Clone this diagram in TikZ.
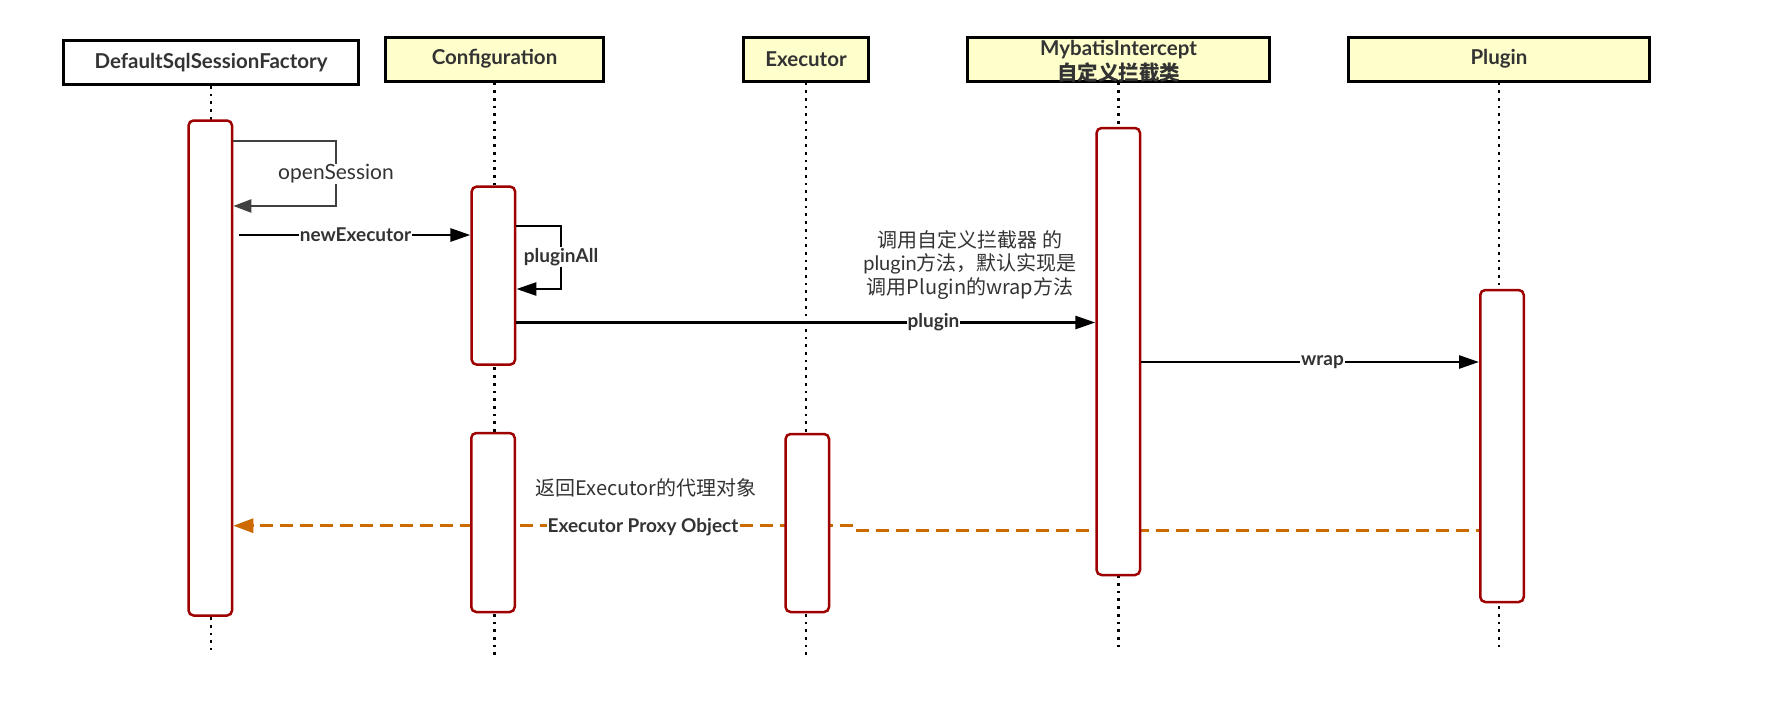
\documentclass[tikz,border=0pt]{standalone}
\usepackage{fontspec}
\setmainfont{Lato}
\newfontfamily\cjk{Noto Sans CJK SC}
\usetikzlibrary{arrows.meta}
\pgfdeclarelayer{bg}
\pgfsetlayers{bg,main}
\definecolor{hdrfill}{HTML}{FFFFCC}
\definecolor{actred}{HTML}{9E0000}
\definecolor{txt}{HTML}{333333}
\definecolor{retor}{HTML}{CC6A00}
\definecolor{selfg}{HTML}{404040}
\tikzset{
  hdr/.style={draw=black, line width=3pt, fill=hdrfill, inner sep=0pt, minimum height=44pt, text=txt, font=\fontsize{20.5}{26}\selectfont\bfseries},
  hdrtext/.style={inner sep=0pt, text=txt, font=\fontsize{20.5}{26}\selectfont\bfseries, align=center},
  act/.style={draw=actred, line width=2.5pt, fill=white, rounded corners=5pt, minimum width=43.5pt, inner sep=0pt},
  life/.style={line width=2.7pt, dash pattern=on 2.7pt off 5pt},
  msg/.style={line width=2.7pt, -{Triangle[length=20pt,width=13pt]}},
  lbl/.style={fill=white, inner sep=1pt, text=txt, font=\fontsize{19}{22}\selectfont\bfseries},
  plainlbl/.style={inner sep=0pt, text=txt, font=\fontsize{20}{23.5}\selectfont},
  retline/.style={draw=retor, line width=3pt, dash pattern=on 13pt off 7pt},
  ret/.style={retline, -{Triangle[length=20pt,width=14pt]}}
}
\begin{document}
\begin{tikzpicture}[x=1pt,y=-1pt]
\useasboundingbox (0,0) rectangle (1788,715);
% headers
\node[hdr, fill=white, minimum width=295pt] (dsf) at (211,62.5) {DefaultSqlSessionFactory};
\node[hdr, minimum width=218pt] (cfg) at (494.5,59) {Configuration};
\node[hdr, minimum width=125pt] (exe) at (806,59) {Executor};
\node[hdr, minimum width=302pt] (myb) at (1118.5,59) {};
\node[hdrtext] (mybT) at (1118.5,61) {MybatisIntercept\\[-1pt]\cjk{自定义拦截类}};
\node[hdr, minimum width=301pt] (plg) at (1499,59) {Plugin};
% activations
\node[act, minimum height=495pt] (dsfA) at (210.3,368) {};
\node[act, minimum height=178pt] (cfgA1) at (493.4,275.6) {};
\node[act, minimum height=179pt] (cfgA2) at (493,522.5) {};
\node[act, minimum height=178pt] (exeA) at (807.3,523) {};
\node[act, minimum height=447pt] (mybA) at (1118.3,351.5) {};
\node[act, minimum height=312pt] (plgA) at (1502,446) {};
% lifeline ends
\coordinate (dsfE) at (211,650);
\coordinate (cfgE) at (494.5,659);
\coordinate (exeE) at (806,659);
\coordinate (mybE) at (1118.5,647);
\coordinate (plgE) at (1499,647);
% return path points
\coordinate (rtA) at (856,530);
\coordinate (rtB) at (853,525.7);
\begin{pgfonlayer}{bg}
\fill[white] (0,0) rectangle (1788,715);
\draw[life] (dsf.south) -- (dsfE);
\draw[life] (cfg.south) -- (cfgE);
\draw[life] (exe.south) -- (exeE);
\draw[life] (myb.south) -- (mybE);
\draw[life] (plg.south) -- (plgE);
\draw[retline, dash phase=10pt] (plgA.west |- rtA) -- (rtA);
\draw[ret] (rtB) -- (dsfA.east |- rtB);
\end{pgfonlayer}
% openSession self call
\coordinate (osT) at (336,141);
\coordinate (osB) at (336,206);
\draw[line width=2.2pt, draw=selfg, -{Triangle[length=18pt,width=13pt]}] (dsfA.east |- osT) -- (osT) -- (osB) -- (dsfA.east |- osB);
\node[lbl, font=\fontsize{21}{24}\selectfont] (osL) at (336,174) {openSession};
% newExecutor
\coordinate (neS) at (239,235);
\draw[msg] (neS) -- (cfgA1.west |- neS);
\node[lbl] (neL) at (355.5,235) {newExecutor};
% pluginAll self call
\coordinate (paT) at (561,226);
\coordinate (paB) at (561,289);
\draw[msg] (cfgA1.east |- paT) -- (paT) -- (paB) -- (cfgA1.east |- paB);
\node[lbl] (paL) at (561,257) {pluginAll};
% plugin
\coordinate (plY) at (0,322.5);
\draw[msg] (cfgA1.east |- plY) -- (mybA.west |- plY);
\node[lbl] (plL) at (933.5,322.5) {plugin};
\node[plainlbl, align=center] (note) at (970,265) {\cjk{调用自定义拦截器 的}\\plugin\cjk{方法，默认实现是}\\\cjk{调用}Plugin\cjk{的}wrap\cjk{方法}};
% wrap
\coordinate (wrY) at (0,362);
\draw[msg] (mybA.east |- wrY) -- (plgA.west |- wrY);
\node[lbl] (wrL) at (1322.5,362) {wrap};
% return labels
\node[lbl] (rtL) at (643,527.5) {Executor Proxy Object};
\node[plainlbl] (rtN) at (646,488) {\cjk{返回}Executor\cjk{的代理对象}};
\end{tikzpicture}
\end{document}
